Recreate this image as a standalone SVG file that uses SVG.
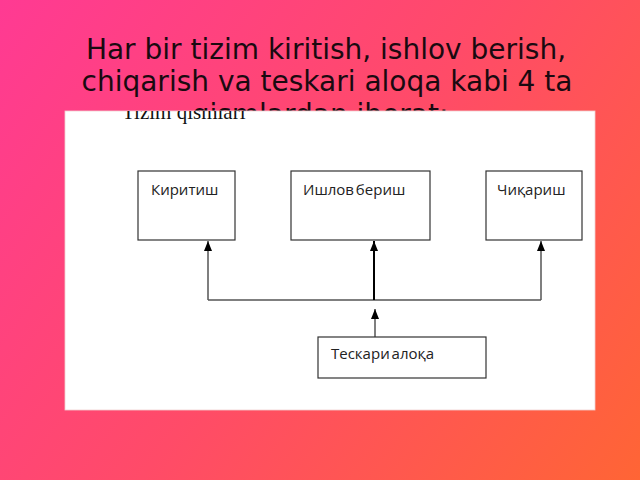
<svg xmlns="http://www.w3.org/2000/svg" width="640" height="480" viewBox="0 0 640 480">
<defs>
<linearGradient id="bg" x1="0" y1="0" x2="640" y2="480" gradientUnits="userSpaceOnUse">
<stop offset="0" stop-color="#ff3a93"/>
<stop offset="0.5" stop-color="#ff4b68"/>
<stop offset="1" stop-color="#ff6535"/>
</linearGradient>
<clipPath id="panelClip"><rect x="65" y="111" width="530" height="299"/></clipPath>
<marker id="arr" viewBox="0 0 10 8" refX="10" refY="4" markerWidth="10" markerHeight="8" markerUnits="userSpaceOnUse" orient="auto">
<path d="M0,0 L10,4 L0,8 Z" fill="#000"/>
</marker>
<style>
.title{font-family:"DejaVu Sans",sans-serif;font-size:28px;fill:#1a0a10;text-anchor:middle}
.box{fill:#fff;stroke:#333;stroke-width:1.2}
.lbl{font-family:"Open Sans","Liberation Sans",sans-serif;font-size:15px;fill:#222;word-spacing:-2px}
.con{fill:none;stroke:#555;stroke-width:1.5}
</style>
</defs>
<rect width="640" height="480" fill="url(#bg)"/>
<text class="title" x="326" y="59">Har bir tizim kiritish, ishlov berish,</text>
<text class="title" x="327" y="91">chiqarish va teskari aloqa kabi 4 ta</text>
<text class="title" x="320" y="124">qismlardan iborat:</text>
<rect x="65" y="111" width="530" height="299" fill="#fff" stroke="#f0d0d0" stroke-width="0.8"/>
<g clip-path="url(#panelClip)">
<text x="122" y="119" font-family="Liberation Serif,serif" font-size="21" fill="#111">Tizim qismlari</text>
</g>
<g id="connectors">
<path class="con" d="M208,300 L208,241" marker-end="url(#arr)"/>
<path class="con" d="M541,300 L541,241" marker-end="url(#arr)"/>
<path class="con" d="M208,300 L541,300"/>
<path d="M374,300 L374,241" fill="none" stroke="#000" stroke-width="2" marker-end="url(#arr)"/>
<path class="con" d="M375,337 L375,309" marker-end="url(#arr)"/>
</g>
<g id="kiritish">
<rect class="box" x="138" y="171" width="97" height="69"/>
<text class="lbl" x="151" y="195">Киритиш</text>
</g>
<g id="ishlov">
<rect class="box" x="291" y="171" width="139" height="69"/>
<text class="lbl" x="303" y="195">Ишлов бериш</text>
</g>
<g id="chiqarish">
<rect class="box" x="486" y="171" width="96" height="69"/>
<text class="lbl" x="497" y="195">Чиқариш</text>
</g>
<g id="teskari">
<rect class="box" x="318" y="337" width="168" height="41"/>
<text class="lbl" x="331" y="359">Тескари алоқа</text>
</g>
</svg>
